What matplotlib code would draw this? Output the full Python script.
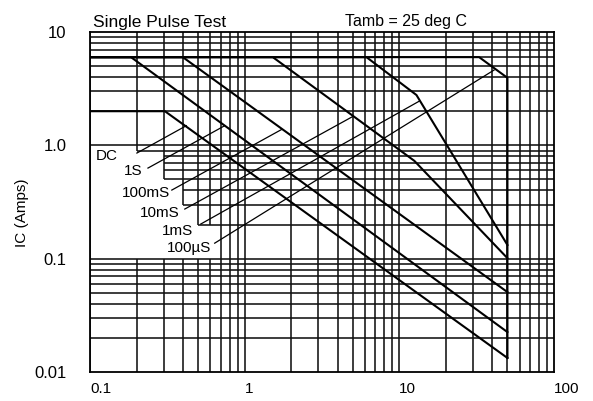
import matplotlib
matplotlib.use('Agg')
import matplotlib.pyplot as plt
from matplotlib.ticker import NullLocator

plt.rcParams['font.family'] = ['Liberation Sans', 'DejaVu Sans']

# safe operating area curves, Vce (V) against Ic (A)
dc_v = [0.1, 0.305, 50]
dc_i = [2, 2, 0.0133]
s1_v = [0.1, 0.184, 50]
s1_i = [6, 6, 0.0225]
ms100_v = [0.1, 0.398, 50]
ms100_i = [6, 6, 0.0507]
ms10_v = [0.1, 1.52, 12.5, 50]
ms10_i = [6, 6, 0.73, 0.101]
ms1_v = [0.1, 6.13, 12.9, 50]
ms1_i = [6, 6, 2.78, 0.132]
us100_v = [0.1, 32.8, 50, 50]
us100_i = [6, 6, 3.94, 0.0133]

# curve labels and their leader lines
labels = ['DC', '1S', '100mS', '10mS', '1mS', '100µS']
label_v = [0.152, 0.217, 0.328, 0.381, 0.462, 0.612]
label_i = [0.804, 0.593, 0.379, 0.253, 0.175, 0.124]
lead_v0 = [0.201, 0.237, 0.338, 0.410, 0.52, 0.64]
lead_i0 = [0.855, 0.63, 0.403, 0.274, 0.202, 0.137]
lead_v1 = [0.4195, 0.743, 1.733, 5.05, 13.5, 41]
lead_i1 = [1.49, 1.49, 1.38, 1.81, 2.46, 4.62]

# white area behind the labels (grid left out there)
step_left = [0.1, 0.2, 0.3, 0.4, 0.5]
step_right = [0.2, 0.3, 0.4, 0.5, 0.7]
step_top = [1.0, 0.9, 0.5, 0.3, 0.2]

fig = plt.figure(figsize=(5.93, 4.01), dpi=100)
ax = fig.add_axes([90 / 593, 29 / 401, 464 / 593, 340 / 401])
ax.set_xscale('log')
ax.set_yscale('log')
ax.set_xlim(0.1, 100)
ax.set_ylim(0.01, 10)

gkw = dict(color='#111111', lw=1.15, zorder=1, solid_capstyle='butt')
eps = 1e-9
xg = [round(m * 10.0 ** e, 6) for e in (-1, 0, 1) for m in range(1, 10)]
yg = [round(m * 10.0 ** e, 6) for e in (-2, -1, 0) for m in range(2, 10)] + [0.1, 1.0]

for y in yg:
    xs = 0.1
    if 0.1 + eps < y < 1.0 - eps:
        xs = 0.7
        for lft, top in zip(step_left, step_top):
            if top <= y + eps:
                xs = lft
                break
    ax.plot([xs, 100], [y, y], **gkw)

for x in xg:
    if 0.1 + eps < x < 0.7 - eps:
        for lft, rgt, top in zip(step_left, step_right, step_top):
            if lft <= x + eps < rgt:
                ax.plot([x, x], [top, 10], **gkw)
                ax.plot([x, x], [0.01, 0.1], **gkw)
                break
    else:
        ax.plot([x, x], [0.01, 10], **gkw)

ckw = dict(color='black', lw=1.5, zorder=3)
for v, i in [(dc_v, dc_i), (s1_v, s1_i), (ms100_v, ms100_i),
             (ms10_v, ms10_i), (ms1_v, ms1_i), (us100_v, us100_i)]:
    ax.plot(v, i, **ckw)

for k in range(len(labels)):
    ax.plot([lead_v0[k], lead_v1[k]], [lead_i0[k], lead_i1[k]],
            color='black', lw=0.9, zorder=3)
    ax.text(label_v[k], label_i[k], labels[k], ha='right', va='center',
            fontsize=11, zorder=4)

ax.set_xticks([0.1, 1, 10, 100])
ax.set_xticklabels(['0.1', '1', '10', '100'], ha='left')
ax.set_yticks([0.01, 0.1, 1, 10])
ax.set_yticklabels(['0.01', '0.1', '1.0', '10'])
ax.xaxis.set_minor_locator(NullLocator())
ax.yaxis.set_minor_locator(NullLocator())
ax.tick_params(axis='x', length=0, pad=7, labelsize=11)
ax.tick_params(axis='y', length=0, pad=17, labelsize=12)
for s in ax.spines.values():
    s.set_linewidth(1.3)

fig.text(93 / 593, 1 - 27 / 401, 'Single Pulse Test', fontsize=12.5,
         va='baseline')
fig.text(345 / 593, 1 - 26 / 401, 'Tamb = 25 deg C', fontsize=11.5,
         va='baseline')
fig.text(22 / 593, 1 - 213 / 401, 'IC (Amps)', rotation=90, ha='center',
         va='center', fontsize=11)

fig.savefig('out.png', dpi=100)
